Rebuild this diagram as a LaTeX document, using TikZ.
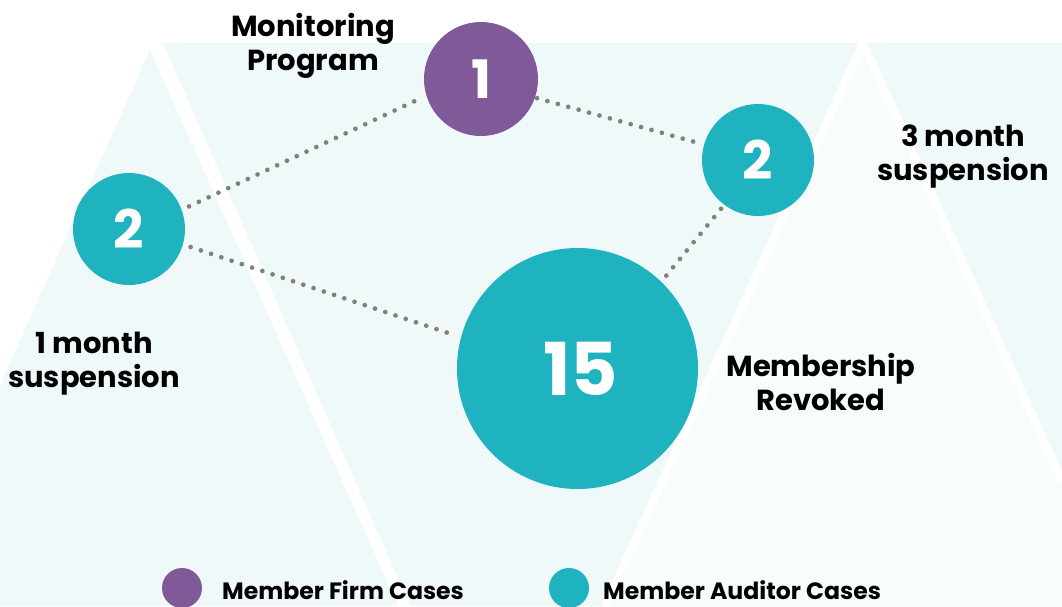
\documentclass[tikz,border=0pt]{standalone}
\usepackage{fontspec}
\setmainfont{Poppins}
\usetikzlibrary{positioning}
\definecolor{caseteal}{RGB}{31,178,191}
\definecolor{casepurple}{RGB}{128,89,152}
\definecolor{dotgrey}{RGB}{133,128,112}
\definecolor{bgtint}{RGB}{240,249,250}
\definecolor{bglight}{RGB}{247,252,252}

\begin{document}
\begin{tikzpicture}[x=1pt,y=-1pt,
    case/.style={circle,inner sep=0pt,text=white,font=\bfseries\fontsize{53}{53}\selectfont},
    firm/.style={case,fill=casepurple,minimum size=114pt},
    auditor/.style={case,fill=caseteal,minimum size=112pt},
    caption/.style={align=center,inner sep=0pt,font=\bfseries\fontsize{29}{34}\selectfont},
    legend/.style={anchor=base west,inner sep=0pt,font=\bfseries\fontsize{23.6}{24}\selectfont},
    dotline/.style={draw=dotgrey,line width=4.7pt,line cap=round,dash pattern=on 0pt off 10.8pt}]

    \useasboundingbox (0,0) rectangle (1062,606);

    % background bands
    \fill[bgtint] (163,43) -- (1062,43) -- (1062,606) -- (410,606) -- cycle;
    \fill[bgtint] (150,50) -- (398,606) -- (0,606) -- (0,385) -- cycle;
    \fill[bglight] (863,43) -- (1062,481) -- (1062,606) -- (605,606) -- cycle;
    \draw[white,line width=8pt] (605,606) -- (863,43) -- (1062,481);

    % cases
    \node[firm] (P1) at (481,79) {1};
    \node[auditor] (L2) at (129,229) {2};
    \node[auditor] (R2) at (758,160) {2};
    \node[auditor,minimum size=241pt,font=\bfseries\fontsize{73}{73}\selectfont] (B15) at (577.5,368.5) {\hspace*{6pt}15};

    \path[dotline]
        (L2.20) edge[shorten <=8pt,shorten >=7pt] (P1.197)
        (L2.-16) edge[shorten <=8pt,shorten >=8pt] (B15.165)
        (P1.-19) edge[shorten <=2pt,shorten >=5pt] (R2.164)
        (R2.233) edge[shorten <=5pt,shorten >=7pt] (B15.46);

    % labels
    \node[caption] (monitor) at (313,46) {Monitoring\\Program};
    \node[caption] (threemonth) at (963,157) {3 month\\suspension};
    \node[caption] (onemonth) at (94,364) {1 month\\suspension};
    \node[caption] (revoked) at (821,382) {Membership\\Revoked};

    % legend
    \node[circle,fill=casepurple,minimum size=40pt,inner sep=0pt] (firmdot) at (182,588) {};
    \node[legend] (firmtext) at (222,599) {Member Firm Cases};
    \node[circle,fill=caseteal,minimum size=40pt,inner sep=0pt] (auditordot) at (569,588) {};
    \node[legend] (auditortext) at (603,599) {Member Auditor Cases};
\end{tikzpicture}
\end{document}
